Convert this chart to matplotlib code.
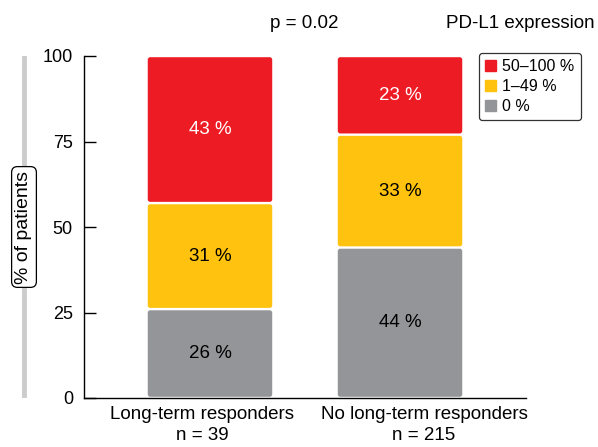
import matplotlib
matplotlib.use('Agg')
import matplotlib.pyplot as plt
import numpy as np
from matplotlib.patches import Patch, FancyBboxPatch

plt.rcParams['font.family'] = ['Liberation Sans', 'DejaVu Sans']

groups = ['Long-term responders\nn = 39', 'No long-term responders\nn = 215']
levels = ['0 %', '1–49 %', '50–100 %']
values = {
    '0 %': [26, 44],
    '1–49 %': [31, 33],
    '50–100 %': [43, 23],
}
colors = {'0 %': '#939598', '1–49 %': '#FFC20E', '50–100 %': '#ED1C24'}
text_colors = {'0 %': 'black', '1–49 %': 'black', '50–100 %': 'white'}

fig = plt.figure(figsize=(5.98, 4.47), dpi=100)
ax = fig.add_axes([84/598, 49/447, 442/598, 342/447])

ax.set_xlim(-0.663, 1.663)
ax.set_ylim(0, 100)

# pixel -> data conversion for the rounded segments
px_x = (1.663 + 0.663) / 442.0
px_y = 100.0 / 342.0

x = np.arange(len(groups))
bottom = np.zeros(len(groups))
for lev in levels:
    vals = np.array(values[lev])
    bars = ax.bar(x, vals, width=0.655, bottom=bottom, color=colors[lev])
    for r in bars:
        r.set_visible(False)
        gap = 1.2 * px_y
        ax.add_patch(FancyBboxPatch((r.get_x(), r.get_y() + gap),
                                    r.get_width(), r.get_height() - 2 * gap,
                                    boxstyle='round,pad=0,rounding_size=%f' % (2.5 * px_x),
                                    mutation_aspect=px_y / px_x,
                                    fc=colors[lev], ec='none'))
    for xi, b, v in zip(x, bottom, vals):
        ax.text(xi, b + v / 2, f'{v} %', ha='center', va='center',
                fontsize=13.5, color=text_colors[lev])
    bottom += vals

ax.set_yticks([0, 25, 50, 75, 100])
# group labels sit a little off the bar centres in the original
ax.set_xticks(x + np.array([-0.042, 0.126]))
ax.set_xticklabels(groups, fontsize=13.5, linespacing=1.3)
ax.tick_params(axis='x', length=0, pad=6)
ax.tick_params(axis='y', direction='in', length=8.5, width=1, labelsize=13, pad=8)
for s in ['top', 'right']:
    ax.spines[s].set_visible(False)
ax.spines['left'].set_linewidth(1)
ax.spines['bottom'].set_linewidth(1)

# y label with grey line behind
fig.add_artist(plt.Line2D([24/598, 24/598], [1 - 58/447, 1 - 395/447],
                          color='#CCCCCC', linewidth=3.5, transform=fig.transFigure))
fig.text(24/598, 1 - 227/447, '% of patients', rotation=90, ha='center', va='center',
         fontsize=14,
         bbox=dict(boxstyle='round,pad=0.2,rounding_size=0.3', fc='white', ec='black', lw=0.9))

fig.text(304/598, 1 - 24/447, 'p = 0.02', ha='center', va='center', fontsize=13.5)
fig.text(595/598, 1 - 24/447, 'PD-L1 expression', ha='right', va='center', fontsize=13.5)

handles = [Patch(color=colors[l], label=l) for l in reversed(levels)]
leg = ax.legend(handles=handles, loc='upper left', bbox_to_anchor=(479/598, 1 - 53/447),
                bbox_transform=fig.transFigure, fontsize=11.5, handlelength=0.65,
                handleheight=0.65, handletextpad=0.4, labelspacing=0.3,
                borderpad=0.4, frameon=True, fancybox=True, borderaxespad=0)
leg.get_frame().set_edgecolor('black')
leg.get_frame().set_linewidth(0.9)

fig.savefig('out.png', dpi=100)
